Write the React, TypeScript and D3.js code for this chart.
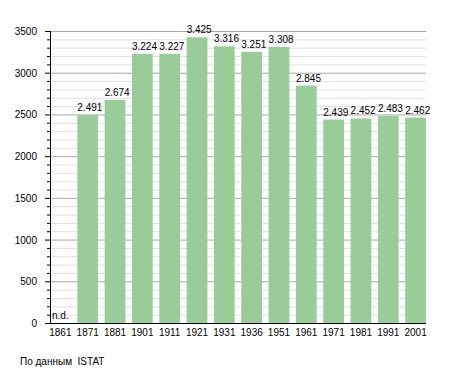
import React from 'react'
import * as d3 from 'd3'

// Censimenti
const years = ['1861', '1871', '1881', '1901', '1911', '1921', '1931', '1936', '1951', '1961', '1971', '1981', '1991', '2001']
const population = [null, 2491, 2674, 3224, 3227, 3425, 3316, 3251, 3308, 2845, 2439, 2452, 2483, 2462]
const yTicks = [0, 500, 1000, 1500, 2000, 2500, 3000, 3500]

const App = () => {
  const ref = React.useRef<SVGSVGElement | null>(null)

  React.useEffect(() => {
    const width = 455
    const height = 373
    const left = 50
    const right = 426
    const top = 31
    const bottom = 323
    const font = 'Liberation Sans, Arial, sans-serif'

    const x = d3.scaleBand().domain(years).range([left, right]).paddingInner(0.24).paddingOuter(0)
    const y = d3.scaleLinear().domain([0, 3500]).range([bottom, top])

    const svg = d3.select(ref.current)
    svg.selectAll('*').remove()
    svg.attr('width', width).attr('height', height)

    // griglia minore
    const minor = d3.range(100, 3500, 100).filter((v) => v % 500 !== 0)
    svg.append('g').selectAll('line').data(minor).enter().append('line')
      .attr('x1', left).attr('x2', right)
      .attr('y1', (d) => y(d) + 0.5).attr('y2', (d) => y(d) + 0.5)
      .attr('stroke', '#e0e0e0').attr('stroke-width', 1)

    // griglia maggiore
    svg.append('g').selectAll('line').data(yTicks.filter((d) => d > 0)).enter().append('line')
      .attr('x1', left).attr('x2', right)
      .attr('y1', (d) => y(d) + 0.5).attr('y2', (d) => y(d) + 0.5)
      .attr('stroke', '#a8a8a8').attr('stroke-width', 1)

    // barre
    const rows = years.map((yr, i) => ({ year: yr, value: population[i] }))
    const withData = rows.filter((d) => d.value != null) as { year: string; value: number }[]
    svg.append('g').selectAll('rect').data(withData).enter().append('rect')
      .attr('x', (d) => x(d.year) || 0)
      .attr('y', (d) => y(d.value))
      .attr('width', x.bandwidth())
      .attr('height', (d) => y(0) - y(d.value))
      .attr('fill', '#99cc99')

    // etichette valori
    svg.append('g').selectAll('text').data(withData).enter().append('text')
      .attr('x', (d) => (x(d.year) || 0))
      .attr('y', (d) => y(d.value) - 4)
      .attr('font-family', font).attr('font-size', 10).attr('fill', '#000')
      .text((d) => d3.format(',')(d.value).replace(',', '.'))

    // n.d.
    rows.filter((d) => d.value == null).forEach((d) => {
      svg.append('text')
        .attr('x', (x(d.year) || 0) + 2).attr('y', bottom - 4)
        .attr('font-family', font).attr('font-size', 10).attr('fill', '#000')
        .text('n.d.')
    })

    // asse y
    const yAxis = svg.append('g')
    yAxis.append('line').attr('x1', left + 0.5).attr('x2', left + 0.5).attr('y1', top).attr('y2', bottom)
      .attr('stroke', '#000')
    yAxis.selectAll('.minor').data(minor).enter().append('line')
      .attr('x1', left - 3).attr('x2', left)
      .attr('y1', (d) => y(d) + 0.5).attr('y2', (d) => y(d) + 0.5)
      .attr('stroke', '#000')
    yAxis.selectAll('.major').data(yTicks).enter().append('line')
      .attr('x1', left - 5).attr('x2', left)
      .attr('y1', (d) => y(d) + 0.5).attr('y2', (d) => y(d) + 0.5)
      .attr('stroke', '#000')
    yAxis.selectAll('text').data(yTicks).enter().append('text')
      .attr('x', 37).attr('y', (d) => y(d) + 4)
      .attr('text-anchor', 'end')
      .attr('font-family', font).attr('font-size', 10).attr('fill', '#000')
      .text((d) => d)

    // asse x
    svg.append('line').attr('x1', left).attr('x2', right).attr('y1', bottom + 0.5).attr('y2', bottom + 0.5)
      .attr('stroke', '#000').attr('stroke-width', 1.2)
    svg.append('g').selectAll('text').data(years).enter().append('text')
      .attr('x', (d) => (x(d) || 0) + x.bandwidth() / 2)
      .attr('y', bottom + 12.5)
      .attr('text-anchor', 'middle')
      .attr('font-family', font).attr('font-size', 10).attr('fill', '#000')
      .text((d) => d)

    svg.append('text')
      .attr('x', 20).attr('y', 365)
      .attr('font-family', font).attr('font-size', 10).attr('fill', '#000')
      .attr('xml:space', 'preserve')
      .style('white-space', 'pre')
      .text('По данным  ISTAT')
  }, [])

  return <svg ref={ref} style={{ position: 'absolute', left: 0, top: 0 }}></svg>
}

export default App
